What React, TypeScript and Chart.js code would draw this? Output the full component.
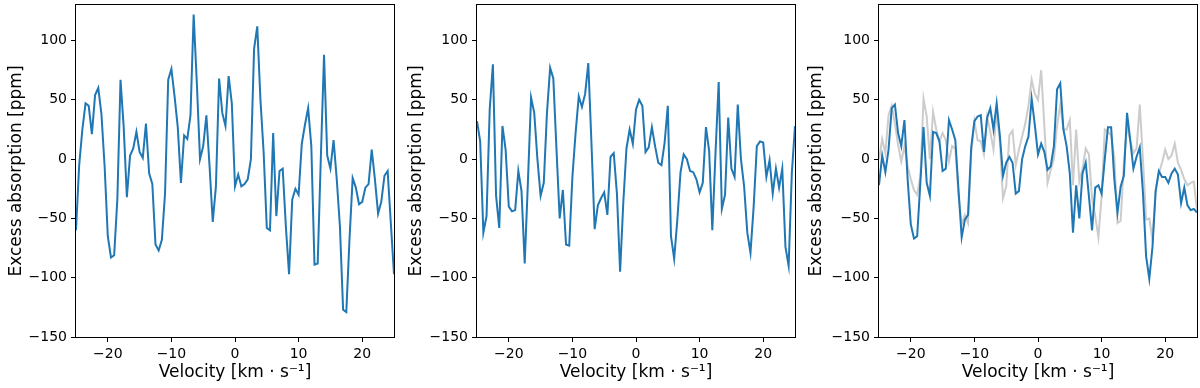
import React, { useEffect, useRef } from 'react';
import { Chart, registerables } from 'chart.js';

Chart.register(...registerables);

// Velocity grid [km/s]
const velocity = [
  -25, -24.5, -24, -23.5, -23, -22.5, -22, -21.5, -21, -20.5,
  -20, -19.5, -19, -18.5, -18, -17.5, -17, -16.5, -16, -15.5,
  -15, -14.5, -14, -13.5, -13, -12.5, -12, -11.5, -11, -10.5,
  -10, -9.5, -9, -8.5, -8, -7.5, -7, -6.5, -6, -5.5,
  -5, -4.5, -4, -3.5, -3, -2.5, -2, -1.5, -1, -0.5,
  0, 0.5, 1, 1.5, 2, 2.5, 3, 3.5, 4, 4.5,
  5, 5.5, 6, 6.5, 7, 7.5, 8, 8.5, 9, 9.5,
  10, 10.5, 11, 11.5, 12, 12.5, 13, 13.5, 14, 14.5,
  15, 15.5, 16, 16.5, 17, 17.5, 18, 18.5, 19, 19.5,
  20, 20.5, 21, 21.5, 22, 22.5, 23, 23.5, 24, 24.5,
  25,
];

// Panel 1 excess absorption [ppm]
const excessLeft = [
  -60, -5, 25, 47, 45, 21, 54, 60, 38, -6,
  -65, -83, -81, -34, 67, 27, -32, 3, 9, 23,
  6, 1, 30, -12, -21, -72, -77, -68, -29, 67,
  76, 53, 27, -20, 20, 17, 37, 122, 64, 0,
  11, 37, -6, -53, -23, 68, 39, 28, 70, 47,
  -23, -13, -23, -21, -17, 0, 93, 112, 50, 6,
  -58, -60, 22, -48, -10, -8, -57, -97, -34, -25,
  -30, 13, 29, 43, 11, -89, -88, 2, 88, 3,
  -8, 16, -17, -57, -127, -129, -68, -16, -24, -38,
  -36, -24, -21, 8, -17, -46, -36, -14, -10, -54,
  -97,
];

// Panel 2 excess absorption [ppm]
const excessMiddle = [
  32, 15, -62, -48, 42, 80, -31, -58, 28, 8,
  -40, -44, -43, -10, -27, -88, -20, 52, 39, 0,
  -31, -20, 39, 77, 68, 8, -50, -26, -72, -73,
  -15, 22, 53, 44, 55, 81, 13, -59, -39, -33,
  -28, -47, 2, 5, -29, -95, -37, 9, 25, 13,
  42, 50, 45, 6, 10, 27, 11, -3, -5, 14,
  45, -65, -84, -51, -11, 4, 0, -10, -11, -17,
  -28, -20, 27, 7, -60, 5, 65, -42, -30, 35,
  -8, -15, 46, 0, -23, -62, -79, -40, 11, 15,
  14, -15, -1, -29, -8, -24, -8, -74, -90, -12,
  28,
];

// Panel 3 excess absorption [ppm] (blue)
const excessRight = [
  -22, 3, -11, 8, 43, 46, 22, 11, 33, -17,
  -55, -67, -65, -20, 27, -20, -31, 23, 22, 15,
  -10, -8, 33, 25, 16, -26, -66, -51, -47, 10,
  32, 36, 37, 6, 35, 43, 25, 47, 20, -14,
  -3, 2, -3, -29, -27, 0, 11, 19, 51, 29,
  4, 13, 6, -9, -6, 11, 59, 64, 25, 11,
  -12, -62, -22, -50, -12, -3, -31, -60, -24, -22,
  -29, 0, 27, 27, -17, -45, -23, -14, 39, 16,
  -8, 2, 10, -28, -82, -101, -74, -27, -10, -15,
  -15, -20, -12, -8, -13, -37, -24, -39, -43, -42,
  -45,
];

// Panel 3 excess absorption [ppm] (grey comparison)
const excessRightGrey = [
  0, 17, 5, 37, 45, 30, 12, -2, 11, -6,
  -17, -26, -30, -15, 51, 36, 0, 40, 25, 15,
  22, 16, -2, 11, 9, -30, -55, -47, -54, 5,
  32, 16, 15, 4, 36, 23, 8, 40, 15, -33,
  -23, 20, 24, -5, 8, 19, 30, 45, 67, 55,
  50, 75, 28, -20, -9, 0, 28, 46, 25, 25,
  33, -22, 25, -19, -8, 9, 4, -33, -48, -66,
  -31, 25, 23, 20, 2, -54, -52, -3, 28, 16,
  5, 9, 46, 0, -51, -50, -68, -26, -12, -3,
  8, 0, 3, 13, -3, -9, -17, -22, -20, -19,
  -43,
];

const xTickValues = [-20, -10, 0, 10, 20];
const yTickValues = [-150, -100, -50, 0, 50, 100];
const xTitle = 'Velocity [km · s⁻¹]';
const yTitle = 'Excess absorption [ppm]';

const BLUE = '#1f77b4';
const GREY = '#cccccc';
const FONT = "'DejaVu Sans', sans-serif";

const framePlugin = {
  id: 'frame',
  afterDraw(chart: any) {
    const { ctx, chartArea: a } = chart;
    ctx.save();
    ctx.strokeStyle = '#000';
    ctx.lineWidth = 1;
    ctx.strokeRect(
      Math.round(a.left) - 0.5,
      Math.round(a.top) - 0.5,
      Math.round(a.right - a.left) + 1,
      Math.round(a.bottom - a.top) + 1
    );
    ctx.restore();
  },
};

const fmt = (v: number) => String(v).replace('-', '\u2212');

function makeConfig(series: { values: number[]; color: string }[], yWidth: number, padRight: number): any {
  return {
    type: 'line',
    data: {
      datasets: series.map((s) => ({
        data: velocity.map((v, i) => ({ x: v, y: s.values[i] })),
        borderColor: s.color,
        borderWidth: 2,
        pointRadius: 0,
        tension: 0,
        fill: false,
      })),
    },
    options: {
      animation: false,
      responsive: false,
      maintainAspectRatio: false,
      layout: { padding: { top: 5, right: padRight, left: 0, bottom: 0 } },
      plugins: { legend: { display: false }, tooltip: { enabled: false } },
      scales: {
        x: {
          type: 'linear',
          min: -25,
          max: 25,
          afterBuildTicks: (scale: any) => {
            scale.ticks = xTickValues.map((v) => ({ value: v }));
          },
          afterFit: (scale: any) => {
            scale.height = 51;
            scale.paddingLeft = 0;
            scale.paddingRight = 0;
          },
          grid: { display: true, drawOnChartArea: false, drawTicks: true, tickLength: 5, color: '#000', lineWidth: 1 },
          border: { display: false },
          ticks: {
            color: '#000',
            font: { family: FONT, size: 14 },
            padding: 4,
            maxRotation: 0,
            autoSkip: false,
            callback: (v: number) => fmt(v),
          },
          title: {
            display: true,
            text: xTitle,
            color: '#000',
            font: { family: FONT, size: 17 },
            padding: { top: 0, bottom: 5 },
          },
        },
        y: {
          type: 'linear',
          min: -150,
          max: 130,
          afterBuildTicks: (scale: any) => {
            scale.ticks = yTickValues.map((v) => ({ value: v }));
          },
          afterFit: (scale: any) => {
            scale.width = yWidth;
            scale.paddingTop = 0;
            scale.paddingBottom = 0;
          },
          grid: { display: true, drawOnChartArea: false, drawTicks: true, tickLength: 5, color: '#000', lineWidth: 1 },
          border: { display: false },
          ticks: {
            color: '#000',
            font: { family: FONT, size: 14 },
            padding: 4,
            autoSkip: false,
            callback: (v: number) => fmt(v),
          },
          title: {
            display: true,
            text: yTitle,
            color: '#000',
            font: { family: FONT, size: 17 },
            padding: { top: 6, bottom: 0 },
          },
        },
      },
    },
    plugins: [framePlugin],
  };
}

const panels = [
  { left: 0, yWidth: 76, padRight: 6, series: [{ values: excessLeft, color: BLUE }] },
  { left: 400, yWidth: 77, padRight: 5, series: [{ values: excessMiddle, color: BLUE }] },
  {
    left: 800,
    yWidth: 79,
    padRight: 3,
    series: [
      { values: excessRight, color: BLUE },
      { values: excessRightGrey, color: GREY },
    ],
  },
];

function Panel({ left, yWidth, padRight, series }: any) {
  const ref = useRef<HTMLCanvasElement | null>(null);
  useEffect(() => {
    if (!ref.current) return;
    const chart = new Chart(ref.current, makeConfig(series, yWidth, padRight));
    return () => chart.destroy();
  }, []);
  return (
    <canvas
      ref={ref}
      width={400}
      height={388}
      style={{ position: 'absolute', left, top: 0, width: 400, height: 388 }}
    />
  );
}

export default function App() {
  return (
    <div style={{ position: 'fixed', left: 0, top: 0, width: 1200, height: 388, background: '#fff' }}>
      {panels.map((p, i) => (
        <Panel key={i} {...p} />
      ))}
    </div>
  );
}
